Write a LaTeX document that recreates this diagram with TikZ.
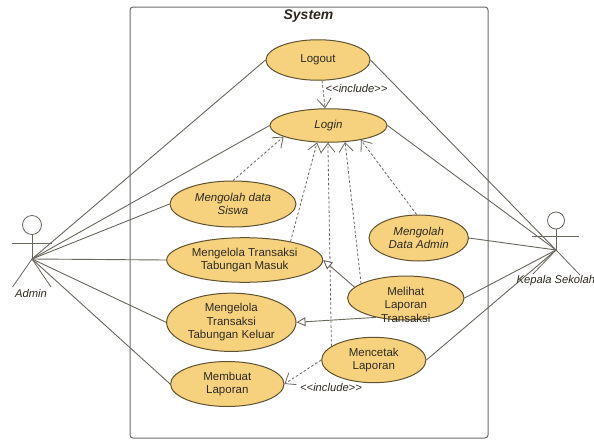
\documentclass[tikz,border=0pt]{standalone}
\usepackage{fontspec}
\setmainfont{Liberation Sans}
\usetikzlibrary{shapes.geometric,arrows.meta}
\definecolor{ucfill}{HTML}{F6D27F}
\definecolor{ucline}{HTML}{5F5230}
\definecolor{wire}{HTML}{6A675E}
\definecolor{txt}{HTML}{2E2A22}
\newcommand{\inctext}{<\kern0pt<include>\kern0pt>}
\tikzset{
  uc/.style={ellipse,draw=ucline,fill=ucfill,line width=1pt,inner sep=0pt,align=center,text=txt,
    font=\fontsize{11.5}{13.6}\selectfont},
  ucit/.style={uc,font=\fontsize{11.5}{13.6}\selectfont\itshape},
  assoc/.style={draw=wire,line width=0.9pt},
  dep/.style={draw=wire,line width=0.8pt,dash pattern=on 2.6pt off 2pt,-{Straight Barb[length=9pt,width=14pt]}},
  gen/.style={draw=wire,line width=0.9pt,-{Triangle[open,fill=white,length=9pt,width=9pt]}},
  stick/.style={draw=wire,line width=0.8pt},
  head/.style={circle,draw=wire,line width=0.8pt,inner sep=0pt,fill=white},
  captext/.style={font=\fontsize{11.2}{13}\selectfont\itshape,text=txt,inner sep=0pt},
}
\begin{document}
\begin{tikzpicture}[x=1pt,y=-1pt]
\useasboundingbox (0,0) rectangle (594,439);
\fill[white] (0,0) rectangle (594,439);
\draw[draw=gray!85!black,line width=1pt,rounded corners=3pt,fill=white] (130,7) rectangle (488,438);
\node[font=\fontsize{14}{16}\selectfont\bfseries\itshape,text=txt,inner sep=0pt] (sys) at (308.5,16) {System};

% actors
\node[head,minimum size=19pt] (ahead) at (32,225) {};
\coordinate (ahub) at (32,259);
\coordinate (aarml) at (12,243);
\coordinate (aarmr) at (52,243);
\coordinate (alegl) at (12.5,287);
\coordinate (alegr) at (51,287);
\draw[stick] (ahead) -- (ahub);
\draw[stick] (aarml) -- (aarmr);
\draw[stick] (alegl) -- (ahub) -- (alegr);
\node[captext] (alabel) at (31,293) {Admin};

\node[head,minimum size=17pt] (khead) at (556,220.5) {};
\coordinate (khub) at (556,250);
\coordinate (karml) at (532,236);
\coordinate (karmr) at (579,236);
\coordinate (klegl) at (533,274);
\coordinate (klegr) at (580,275);
\draw[stick] (khead) -- (khub);
\draw[stick] (karml) -- (karmr);
\draw[stick] (klegl) -- (khub) -- (klegr);

% use cases
\node[uc,minimum width=104pt,minimum height=40.5pt] (logout) at (318,60) {Logout};
\node[ucit,minimum width=117pt,minimum height=33.5pt] (login) at (328.5,125.5) {\raisebox{1.5pt}{Login}};
\node[ucit,minimum width=126pt,minimum height=46pt] (siswa) at (233,204) {Mengolah data\\Siswa};
\node[uc,minimum width=156pt,minimum height=44.6pt] (masuk) at (244.7,260) {Mengelola Transaksi\\Tabungan Masuk};
\node[uc,minimum width=129.4pt,minimum height=56.6pt] (keluar) at (231.3,322.3) {\raisebox{-1.8pt}{\begin{tabular}{@{}c@{}}Mengelola\\[0.2pt]Transaksi\\[0.2pt]Tabungan Keluar\end{tabular}}};
\node[uc,minimum width=113.4pt,minimum height=45pt] (membuat) at (227.3,384) {Membuat\\Laporan};
\node[uc,minimum width=104.3pt,minimum height=45.4pt] (mencetak) at (373.8,360) {Mencetak\\Laporan};
\node[uc,minimum width=116.4pt,minimum height=44pt,
  label={[align=center,text=txt,inner sep=0pt,yshift=-6.5pt,font=\fontsize{11.5}{13.6}\selectfont]center:Melihat\\Laporan\\Transaksi}] (melihat) at (405.8,298) {};
\node[ucit,minimum width=99.4pt,minimum height=46pt] (dadmin) at (418.7,238) {Mengolah\\Data Admin};

% associations
\foreach \n in {logout,login,siswa,masuk,keluar,membuat}
  \draw[assoc] (ahub) -- (\n.west);
\foreach \n in {logout,login,dadmin,melihat,mencetak}
  \draw[assoc] (khub) -- (\n.east);

% dependencies
\draw[dep] (logout.-79) -- (login.101.6);
\draw[dep] (siswa.90) -- (login.194.5);
\draw[dep] (masuk.22) -- (login.236.7);
\draw[dep] (mencetak.162) -- (login.268);
\draw[dep] (melihat.162) -- (login.-45);
\draw[dep] (dadmin.95) -- (login.-24);
\draw[dep] (mencetak.west) -- (membuat.east);

% generalisations
\draw[gen] (melihat.168) -- (masuk.east);
\draw[gen] (melihat.213) -- (keluar.east);

% labels
\node[captext] (inc1) at (356.5,88) {\inctext};
\node[captext] (inc2) at (331,387.5) {\inctext};
\node[captext,anchor=west] (klabel) at (516.5,281) {Kepala Sekolah};
\end{tikzpicture}
\end{document}
